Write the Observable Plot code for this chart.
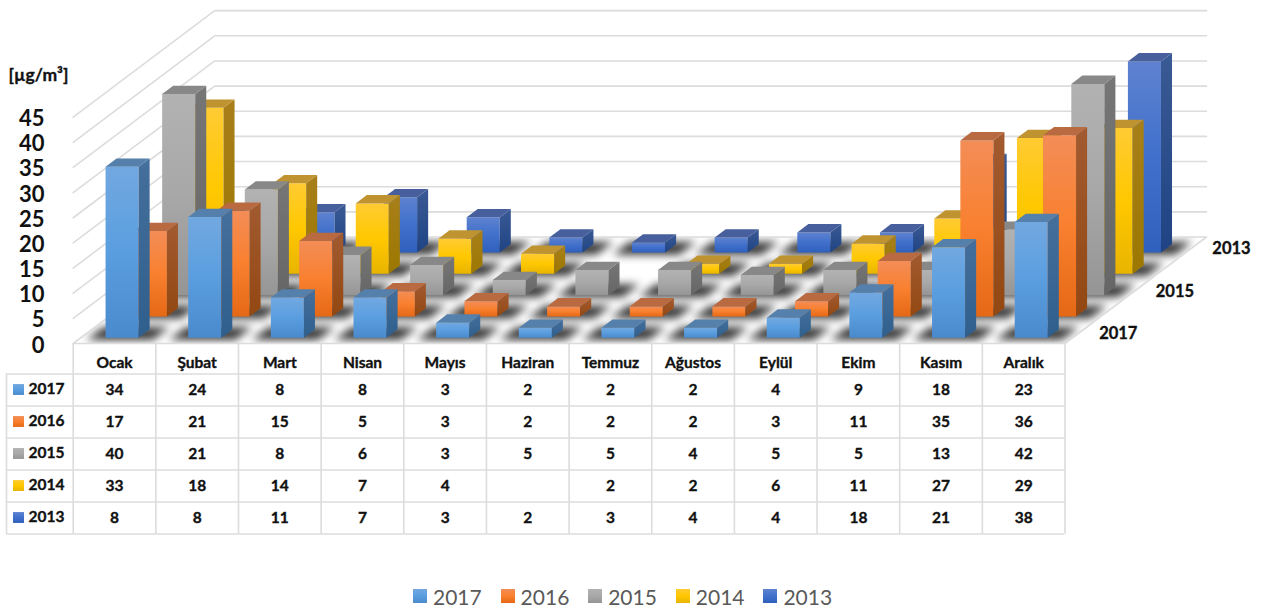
<!DOCTYPE html>
<html><head><meta charset="utf-8">
<style>
html,body{margin:0;padding:0;background:#fff}
#legend{display:flex;height:76px;box-sizing:border-box;padding:49px 0 0 413px;font:21px Lato;color:#595959}
#legend div{display:flex;align-items:center;width:87.6px;height:26px}
#legend i{display:block;width:14px;height:14px;margin-right:6px}
</style>
<script src="https://cdn.jsdelivr.net/npm/d3@7"></script>
<script src="https://cdn.jsdelivr.net/npm/@observablehq/plot@0.6"></script>
</head><body><div id="chart"></div><div id="legend"></div>
<script>
const months = ["Ocak","Şubat","Mart","Nisan","Mayıs","Haziran","Temmuz","Ağustos","Eylül","Ekim","Kasım","Aralık"];
const years = ["2017","2016","2015","2014","2013"];
const v2017 = [34,24,8,8,3,2,2,2,4,9,18,23];
const v2016 = [17,21,15,5,3,2,2,2,3,11,35,36];
const v2015 = [40,21,8,6,3,5,5,4,5,5,13,42];
const v2014 = [33,18,14,7,4,null,2,2,6,11,27,29];
const v2013 = [8,8,11,7,3,2,3,4,4,18,21,38];
const series = [v2017,v2016,v2015,v2014,v2013];
const yTicks = [0,5,10,15,20,25,30,35,40,45];
const depthLabels = ["2017","2015","2013"];
// front gradient stops (top, mid, bottom), side (top, bottom), top face
const fronts = [["#72a8e0","#5a9ee0","#4a8acc"],["#f38d57","#f9802f","#e56815"],["#b2b2b2","#a8a8a8","#959595"],["#ffcb33","#ffc800","#e8b400"],["#5e82cf","#4070cc","#2f60bb"]];
const sides = [["#456f9c","#2f5f8d"],["#a25a30","#934812"],["#767676","#666666"],["#a87f1a","#9c7800"],["#3a5a94","#1f4384"]];
const tops = ["#5480ab","#b96a40","#888888","#bf9430","#475f9c"];

// Oblique depth axis expressed in the units of the x (months) and y (µg/m³) scales
const MONTH_PX = 82.65, UNIT_PX = 5.03, X0 = 72.7, H = 343, W = 1261;
const KX = 28.3 / MONTH_PX, KY = 21.3 / UNIT_PX;
const P = (m, s, v) => ({x: m + s * KX, y: v + s * KY});
const xScale = {domain: [-X0 / MONTH_PX, (W - X0) / MONTH_PX], range: [0, W], axis: null};
const yScale = {domain: [0, H / UNIT_PX], range: [H, 0]};
const ink = {fontWeight: 700, fill: "#111", stroke: "#111", strokeWidth: 0.35};

function poly(list, id, fill, pts) { pts.forEach(p => list.push({id, fill, ...P(...p)})); }

const bars = [], shadows = [];
for (let d = years.length - 1; d >= 0; --d) {
  series[d].forEach((v, i) => {
    if (v == null) return;
    const m1 = i + 0.299, m2 = m1 + 0.4, s1 = d + 0.27, s2 = s1 + 0.39, k = `${d}-${i}`;
    poly(shadows, k, "#000", [[i+0.1,d+0.17,0],[i+0.9,d+0.17,0],[i+0.9,d+0.78,0],[i+0.1,d+0.78,0]]);
    poly(bars, "f"+k, `url(#front${d})`, [[m1,s1,0],[m2,s1,0],[m2,s1,v],[m1,s1,v]]);
    poly(bars, "s"+k, `url(#side${d})`, [[m2,s1,0],[m2,s2,0],[m2,s2,v],[m2,s1,v]]);
    poly(bars, "t"+k, tops[d], [[m1,s1,v],[m2,s1,v],[m2,s2,v],[m1,s2,v]]);
  });
}
const walls = [];
yTicks.slice(1).forEach(v => poly(walls, v, "", [[0,0,v],[0,5,v],[12,5,v]]));
const floorOutline = [[0,0,0],[12,0,0],[12,5,0],[0,5,0],[0,0,0]].map(p => P(...p));

function defs(index, scales) {
  const root = d3.create("svg:defs");
  const grad = (id, stops) => {
    const g = root.append("linearGradient").attr("id", id).attr("x1",0).attr("x2",0).attr("y1",0).attr("y2",1);
    stops.forEach((c, j) => g.append("stop").attr("offset", j / (stops.length - 1)).attr("stop-color", c));
  };
  years.forEach((_, d) => { grad("front"+d, fronts[d]); grad("side"+d, sides[d]); });
  root.append("clipPath").attr("id","floorClip").append("polygon")
    .attr("points", floorOutline.map(p => [scales.x(p.x), scales.y(p.y)].join(",")).join(" "));
  return root.node();
}

const chart = Plot.plot({
  width: W, height: H, margin: 0,
  style: {fontFamily: "Lato", overflow: "visible", color: "#111"},
  x: xScale, y: yScale, color: {type: "identity"},
  marks: [
    defs,
    Plot.line(walls, {x:"x", y:"y", z:"id", stroke:"#dcdcdc", strokeWidth:1.6}),
    Plot.line(shadows, {x:"x", y:"y", z:"id", fill:"#000", fillOpacity:0.78, imageFilter:"blur(4.5px)", className:"floor-shadow"}),
    Plot.line(floorOutline, {x:"x", y:"y", stroke:"#dcdcdc", strokeWidth:1.6}),
    Plot.line(bars, {x:"x", y:"y", z:"id", fill:"fill"}),
    Plot.axisY(yTicks, {tickSize:0, dx:53, dy:2, fontSize:22, label:null, ...ink, strokeWidth:0.55}),
    Plot.text(["[µg/m³]"], {frameAnchor:"top-left", dx:8, dy:75, fontSize:17.5, lineAnchor:"middle", ...ink}),
    Plot.text(depthLabels, {
      x: (d, i) => P(12, 2 * i + 0.5, 0).x,
      y: (d, i) => P(12, 2 * i + 0.5, 0).y,
      text: d => d, dx: 20, dy: 1, textAnchor:"start", fontSize:16.5, ...ink})
  ]
});
const shadowG = chart.querySelector(".floor-shadow");
if (shadowG) shadowG.setAttribute("clip-path", "url(#floorClip)");
document.getElementById("chart").append(chart);

// table
const ROW = 32, TH = 191, HEAD = 30.5;
const rowsIdx = d3.range(years.length);
const cells = years.flatMap((y, r) => months.map((m, i) => ({r, i, v: series[r][i]}))).filter(d => d.v != null);
const tableLeft = (6 - X0) / MONTH_PX, swatchL = (13 - X0) / MONTH_PX, swatchR = (24 - X0) / MONTH_PX, yearX = (28 - X0) / MONTH_PX;
const table = Plot.plot({
  width: W, height: TH, margin: 0,
  style: {fontFamily:"Lato", background:"transparent", color:"#111", overflow:"visible", display:"block"},
  x: xScale,
  y: {domain: [-HEAD / ROW, (TH - HEAD) / ROW], range: [0, TH], axis: null},
  marks: [
    Plot.ruleX(d3.range(months.length + 1), {y1: -HEAD / ROW, y2: years.length, stroke:"#dcdcdc", strokeWidth:1.6}),
    Plot.ruleX([tableLeft], {y1: 0, y2: years.length, stroke:"#dcdcdc", strokeWidth:1.6}),
    Plot.ruleY(d3.range(years.length + 1), {x1: tableLeft, x2: months.length, stroke:"#dcdcdc", strokeWidth:1.6}),
    Plot.text(months, {x: (d, i) => i + 0.5, y: -0.33, text: d => d, fontSize:15.5, ...ink}),
    Plot.text(cells, {x: d => d.i + 0.5, y: d => d.r + 0.5, text: d => String(d.v), fontSize:15.5, ...ink}),
    Plot.rect(rowsIdx, {x1: swatchL, x2: swatchR, y1: r => r + 0.33, y2: r => r + 0.67, fill: r => `url(#front${r})`}),
    Plot.text(rowsIdx, {x: yearX, y: r => r + 0.48, text: r => years[r], textAnchor:"start", fontSize:15.5, ...ink})
  ],
  color: {type:"identity"}
});
document.getElementById("chart").append(table);

// legend
const legend = d3.select("#legend");
years.forEach((y, d) => {
  const item = legend.append("div");
  item.append("i").style("background", `linear-gradient(${fronts[d].join(",")})`);
  item.append("span").text(y);
});
</script></body></html>
